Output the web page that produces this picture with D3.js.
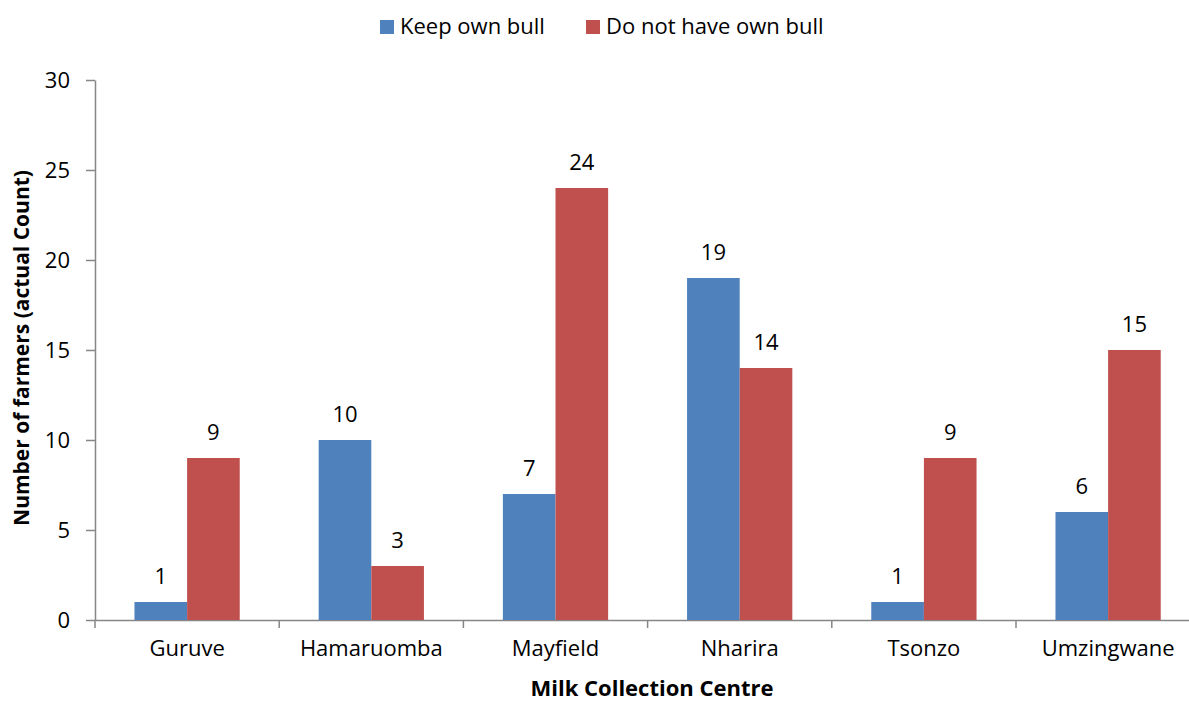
<!DOCTYPE html>
<html>
<head>
<meta charset="utf-8">
<script src="https://cdn.jsdelivr.net/npm/d3@7"></script>
<style>
  html, body { margin: 0; padding: 0; background: #fff; }
  svg { display: block; font-family: "Open Sans", "Noto Sans", "Liberation Sans", sans-serif; }
</style>
</head>
<body>
<svg id="chart" width="1189" height="702"></svg>
<script>
// Farmers per milk collection centre, split by bull ownership
const centres = ["Guruve", "Hamaruomba", "Mayfield", "Nharira", "Tsonzo", "Umzingwane"];
const keepOwnBull = [1, 10, 7, 19, 1, 6];
const noOwnBull = [9, 3, 24, 14, 9, 15];
const seriesNames = ["Keep own bull", "Do not have own bull"];
const seriesColors = ["#4f81bd", "#c0504d"];
const yTicks = [0, 5, 10, 15, 20, 25, 30];

const FONT = "'Open Sans', 'Noto Sans', sans-serif";
const svg = d3.select("#chart");
const margin = { left: 95, top: 80, bottom: 620 };
const bandWidth = 184.2;
const plotRight = margin.left + bandWidth * centres.length;

const x = d3.scaleBand().domain(centres).range([margin.left, plotRight]).paddingInner(0).paddingOuter(0);
const inner = d3.scaleBand().domain([0, 1]).range([0, x.bandwidth()]).paddingInner(0).paddingOuter(0.75);
const y = d3.scaleLinear().domain([0, 30]).range([margin.bottom, margin.top]);

const axisColor = "#868686";

// Y axis
const yAxis = svg.append("g")
  .attr("transform", `translate(${margin.left},0)`)
  .call(d3.axisLeft(y).tickValues(yTicks).tickSize(9).tickSizeOuter(0).tickPadding(16));
yAxis.select(".domain").attr("stroke", axisColor).attr("stroke-width", 1.5);
yAxis.selectAll(".tick line").attr("stroke", axisColor).attr("stroke-width", 1.5);
yAxis.selectAll(".tick text").attr("font-size", 22).attr("fill", "#000")
  .attr("font-family", FONT);

// X axis
const xAxis = svg.append("g")
  .attr("transform", `translate(0,${margin.bottom})`)
  .call(d3.axisBottom(x).tickSize(0).tickPadding(20));
xAxis.select(".domain").attr("stroke", axisColor).attr("stroke-width", 1.5);
xAxis.selectAll(".tick text").attr("font-size", 22).attr("fill", "#000")
  .attr("font-family", FONT);
// category separator ticks
xAxis.selectAll(".sep")
  .data(d3.range(centres.length + 1))
  .enter().append("line")
  .attr("x1", i => margin.left + i * x.step())
  .attr("x2", i => margin.left + i * x.step())
  .attr("y1", 0).attr("y2", 8)
  .attr("stroke", axisColor).attr("stroke-width", 1.5);

// Bars with value labels
const series = [keepOwnBull, noOwnBull];
series.forEach((vals, s) => {
  const g = svg.append("g");
  g.selectAll("rect")
    .data(centres)
    .enter().append("rect")
    .attr("x", (c) => x(c) + inner(s))
    .attr("y", (c, i) => y(vals[i]))
    .attr("width", inner.bandwidth())
    .attr("height", (c, i) => y(0) - y(vals[i]))
    .attr("fill", seriesColors[s]);
  g.selectAll("text")
    .data(centres)
    .enter().append("text")
    .attr("x", (c) => x(c) + inner(s) + inner.bandwidth() / 2)
    .attr("y", (c, i) => y(vals[i]) - 18)
    .attr("text-anchor", "middle")
    .attr("font-size", 22)
    .attr("fill", "#000")
    .text((c, i) => vals[i]);
});

// Axis titles
svg.append("text")
  .attr("x", 652)
  .attr("y", 696)
  .attr("text-anchor", "middle")
  .attr("font-size", 22)
  .attr("font-weight", "bold")
  .text("Milk Collection Centre");

svg.append("text")
  .attr("transform", `translate(29,${(margin.top + margin.bottom) / 2 - 2}) rotate(-90)`)
  .attr("text-anchor", "middle")
  .attr("font-size", 21)
  .attr("font-weight", "bold")
  .text("Number of farmers (actual Count)");

// Legend
const legend = svg.append("g");
const legendX = [380, 586];
seriesNames.forEach((name, i) => {
  legend.append("rect")
    .attr("x", legendX[i]).attr("y", 20)
    .attr("width", 14).attr("height", 14)
    .attr("fill", seriesColors[i]);
  legend.append("text")
    .attr("x", legendX[i] + 20).attr("y", 34)
    .attr("font-size", 22)
    .attr("fill", "#000")
    .text(name);
});
</script>
</body>
</html>
